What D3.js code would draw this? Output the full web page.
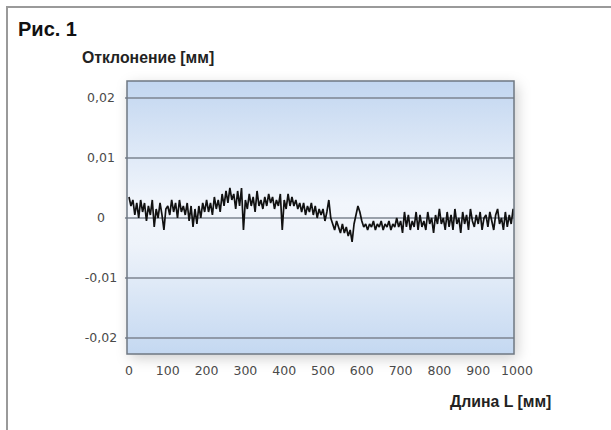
<!DOCTYPE html>
<html>
<head>
<meta charset="utf-8">
<script src="https://cdn.jsdelivr.net/npm/d3@7"></script>
<style>
  body { margin: 0; background: #fff; }
  svg { display: block; }
</style>
</head>
<body>
<div id="chart"></div>
<script>
// Рис. 1 - отклонение по длине
var xTicks = [0, 100, 200, 300, 400, 500, 600, 700, 800, 900, 1000];
var yTicks = [-0.02, -0.01, 0, 0.01, 0.02];
var stepMm = 5;
// отклонение в мкм, шаг 5 мм, начиная с 0
var deviationUm = [
  3.5, 2, 3, 0.5, 2.5, 0, 3, 1, 2.5, -0.5,
  2, 0.5, 3, -1.5, 1.5, 0, 2.5, 0.5, -2, 1.5,
  2, 0.5, 3, 1, 2.5, 0, 3, 1, 2, 0.5,
  2.5, -0.5, 2, -1.5, 1.5, -1, 2, 0, 2.5, 1,
  3, 1, 2.5, 0.5, 3.5, 1.5, 3, 1, 4, 2,
  4.5, 2.5, 5, 3, 4, 1.5, 4.5, 2, 5, -2,
  3, 1.5, 4, 2, 3.5, 1, 4.5, 2, 3, 1.5,
  3.5, 2, 4, 2.5, 3.5, 1.5, 3, 2, 4, -2,
  3, 1.5, 4, 2, 3.5, 2, 3, 1.5, 2.5, 1,
  2.5, 0.5, 2, 1, 2.5, 0.5, 2, 0, 1.5, 0.5,
  1.5, -0.5, 1, 3, 0, -1, -2, -0.5, -1.5, -2.5,
  -1, -2.5, -1.5, -3, -2, -4, -1, 0.5, 2, 1,
  -0.5, -1.5, -1, -2, -1, -1.5, -0.5, -2, -1, -1.5,
  -0.5, -2, -1, -1.5, -0.5, -2, -1, -1.5, 0, -1.5,
  -0.5, -2.5, 1, -1.5, 0.5, -2, -0.5, -1.5, 1, -2,
  0.5, -1.5, -0.5, -2, 1, -1, 0, -2.5, 0.5, -1,
  1.5, -1, 0, -2, 1, -1.5, 0.5, -2, 1.5, -1,
  0, -2.5, 1, -1, 0.5, -2, 1.5, -0.5, -1.5, 0.5,
  -1, 1, -2, 0, 0.5, -1.5, 1, -0.5, -2, 0.5,
  1.5, -1, 0, -2, 1, -1.5, 0.5, -1, 1.5, -0.5
];

var width = 611, height = 430;
var plot = { left: 127, right: 514, top: 81, bottom: 354 };

var svg = d3.select("#chart").append("svg")
  .attr("width", width)
  .attr("height", height);

var defs = svg.append("defs");
var grad = defs.append("linearGradient")
  .attr("id", "bg")
  .attr("x1", 0).attr("y1", 0).attr("x2", 0).attr("y2", 1);
grad.append("stop").attr("offset", "0%").attr("stop-color", "#c2d6f0");
grad.append("stop").attr("offset", "45%").attr("stop-color", "#f2f6fc");
grad.append("stop").attr("offset", "60%").attr("stop-color", "#eef3fa");
grad.append("stop").attr("offset", "100%").attr("stop-color", "#c4d8f1");

var shadow = defs.append("filter")
  .attr("id", "shadow")
  .attr("x", "-10%").attr("y", "-10%")
  .attr("width", "125%").attr("height", "130%");
shadow.append("feDropShadow")
  .attr("dx", 3).attr("dy", 4)
  .attr("stdDeviation", 7)
  .attr("flood-color", "#000")
  .attr("flood-opacity", 0.2);

defs.append("clipPath").attr("id", "clip")
  .append("rect")
  .attr("x", plot.left).attr("y", plot.top)
  .attr("width", plot.right - plot.left)
  .attr("height", plot.bottom - plot.top);

// рамка
svg.append("line")
  .attr("x1", 6).attr("x2", width).attr("y1", 7).attr("y2", 7)
  .attr("stroke", "#9a9a9a").attr("stroke-width", 2);
svg.append("line")
  .attr("x1", 7).attr("x2", 7).attr("y1", 6).attr("y2", height)
  .attr("stroke", "#9a9a9a").attr("stroke-width", 2);

var x = d3.scaleLinear().domain([0, 1000]).range([129, 517]);
var y = d3.scaleLinear().domain([-0.02267, 0.02283]).range([plot.bottom, plot.top]);

svg.append("rect")
  .attr("x", plot.left).attr("y", plot.top)
  .attr("width", plot.right - plot.left)
  .attr("height", plot.bottom - plot.top)
  .attr("fill", "url(#bg)")
  .attr("filter", "url(#shadow)");

svg.append("g").selectAll("line")
  .data(yTicks)
  .enter().append("line")
  .attr("x1", plot.left - 2).attr("x2", plot.right)
  .attr("y1", d => y(d)).attr("y2", d => y(d))
  .attr("stroke", "#7d8590")
  .attr("stroke-width", 1.5);

var line = d3.line()
  .x((d, i) => x(i * stepMm))
  .y(d => y(d / 1000));

svg.append("path")
  .datum(deviationUm)
  .attr("clip-path", "url(#clip)")
  .attr("d", line)
  .attr("fill", "none")
  .attr("stroke", "#111")
  .attr("stroke-width", 1.7)
  .attr("stroke-linejoin", "bevel");

svg.append("rect")
  .attr("x", plot.left).attr("y", plot.top)
  .attr("width", plot.right - plot.left)
  .attr("height", plot.bottom - plot.top)
  .attr("fill", "none")
  .attr("stroke", "#6f7882")
  .attr("stroke-width", 1.5);

// подписи осей
var fmt = d => d === 0 ? "0" : d.toFixed(2).replace(".", ",");
svg.append("g").selectAll("text")
  .data(yTicks)
  .enter().append("text")
  .attr("x", 101)
  .attr("y", d => y(d))
  .attr("dy", "0.35em")
  .attr("text-anchor", "middle")
  .attr("font-family", "DejaVu Sans")
  .attr("font-size", 12.5)
  .attr("fill", "#4a4a4a")
  .text(fmt);

svg.append("g").selectAll("text")
  .data(xTicks)
  .enter().append("text")
  .attr("x", d => x(d))
  .attr("y", 371)
  .attr("dy", "0.35em")
  .attr("text-anchor", "middle")
  .attr("font-family", "DejaVu Sans")
  .attr("font-size", 12.5)
  .attr("fill", "#4a4a4a")
  .text(d => d);

svg.append("text")
  .attr("x", 18).attr("y", 36)
  .attr("font-family", "Liberation Sans, Arial, sans-serif")
  .attr("font-weight", "bold")
  .attr("font-size", 20)
  .attr("fill", "#111")
  .text("Рис. 1");

svg.append("text")
  .attr("x", 82).attr("y", 63)
  .attr("font-family", "Liberation Sans, Arial, sans-serif")
  .attr("font-weight", "bold")
  .attr("font-size", 15.8)
  .attr("fill", "#222")
  .text("Отклонение [мм]");

svg.append("text")
  .attr("x", 450).attr("y", 407)
  .attr("font-family", "Liberation Sans, Arial, sans-serif")
  .attr("font-weight", "bold")
  .attr("font-size", 15.8)
  .attr("fill", "#222")
  .text("Длина L [мм]");
</script>
</body>
</html>
